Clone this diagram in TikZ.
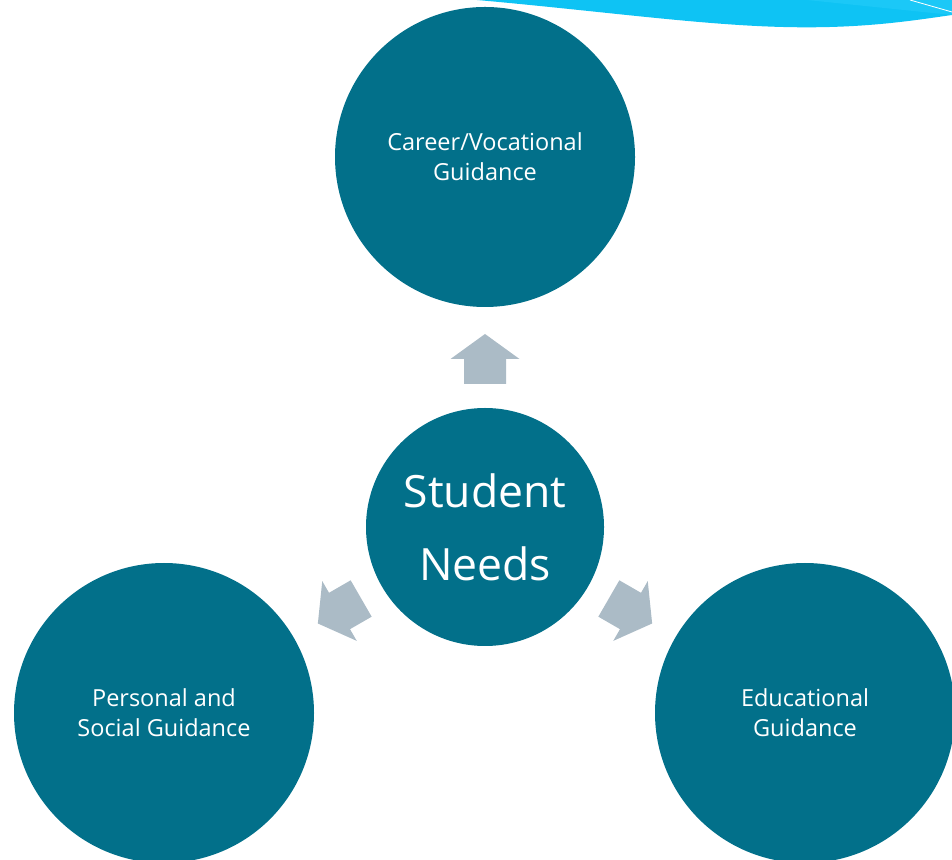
\documentclass[tikz,border=0pt]{standalone}
\usepackage{fontspec}
\setmainfont{Open Sans}
\definecolor{circ}{HTML}{02708A}
\definecolor{arr}{HTML}{ABBBC6}
\definecolor{sw}{HTML}{0EC3F4}
\definecolor{swl}{HTML}{1BC8F7}
\begin{document}
\begin{tikzpicture}[x=1pt,y=1pt,
  bigc/.style={circle,fill=circ,minimum size=300pt,inner sep=0pt,text=white,align=center,
    font=\fontsize{23.5}{30}\selectfont},
  midc/.style={circle,fill=circ,minimum size=238pt,inner sep=0pt,text=white,align=center,
    font=\fontsize{44.5}{73}\selectfont},
  arrowshape/.style={fill=arr}]
\useasboundingbox (0,0) rectangle (952,859);
\begin{scope}
\clip (0,0) rectangle (952,859);
% swoosh
\fill[sw] (477,859) .. controls (600,848) and (700,834) .. (783,832)
  .. controls (860,830) and (910,838) .. (952,844) -- (952,859) -- cycle;
\fill[swl] (807,859) -- (952,844) -- (952,859) -- cycle;
\draw[white,line width=0.8pt] (910,859) -- (952,847);
% circles
\node[bigc] (career) at (485,702) {Career/Vocational\\Guidance};
\node[midc] (sn) at (485,332) {Student\\Needs};
\node[bigc] (personal) at (164,146) {Personal and\\Social Guidance};
\node[bigc] (edu) at (805,146) {Educational\\Guidance};
% arrows
\foreach \a in {90,210,330}{
  \begin{scope}[shift={(sn.center)},rotate=\a]
    \fill[arrowshape] (143,-21) -- (168,-21) -- (168,-34.5) -- (193,0) -- (168,34.5) -- (168,21) -- (143,21) -- cycle;
  \end{scope}
}
\end{scope}
\end{tikzpicture}
\end{document}
